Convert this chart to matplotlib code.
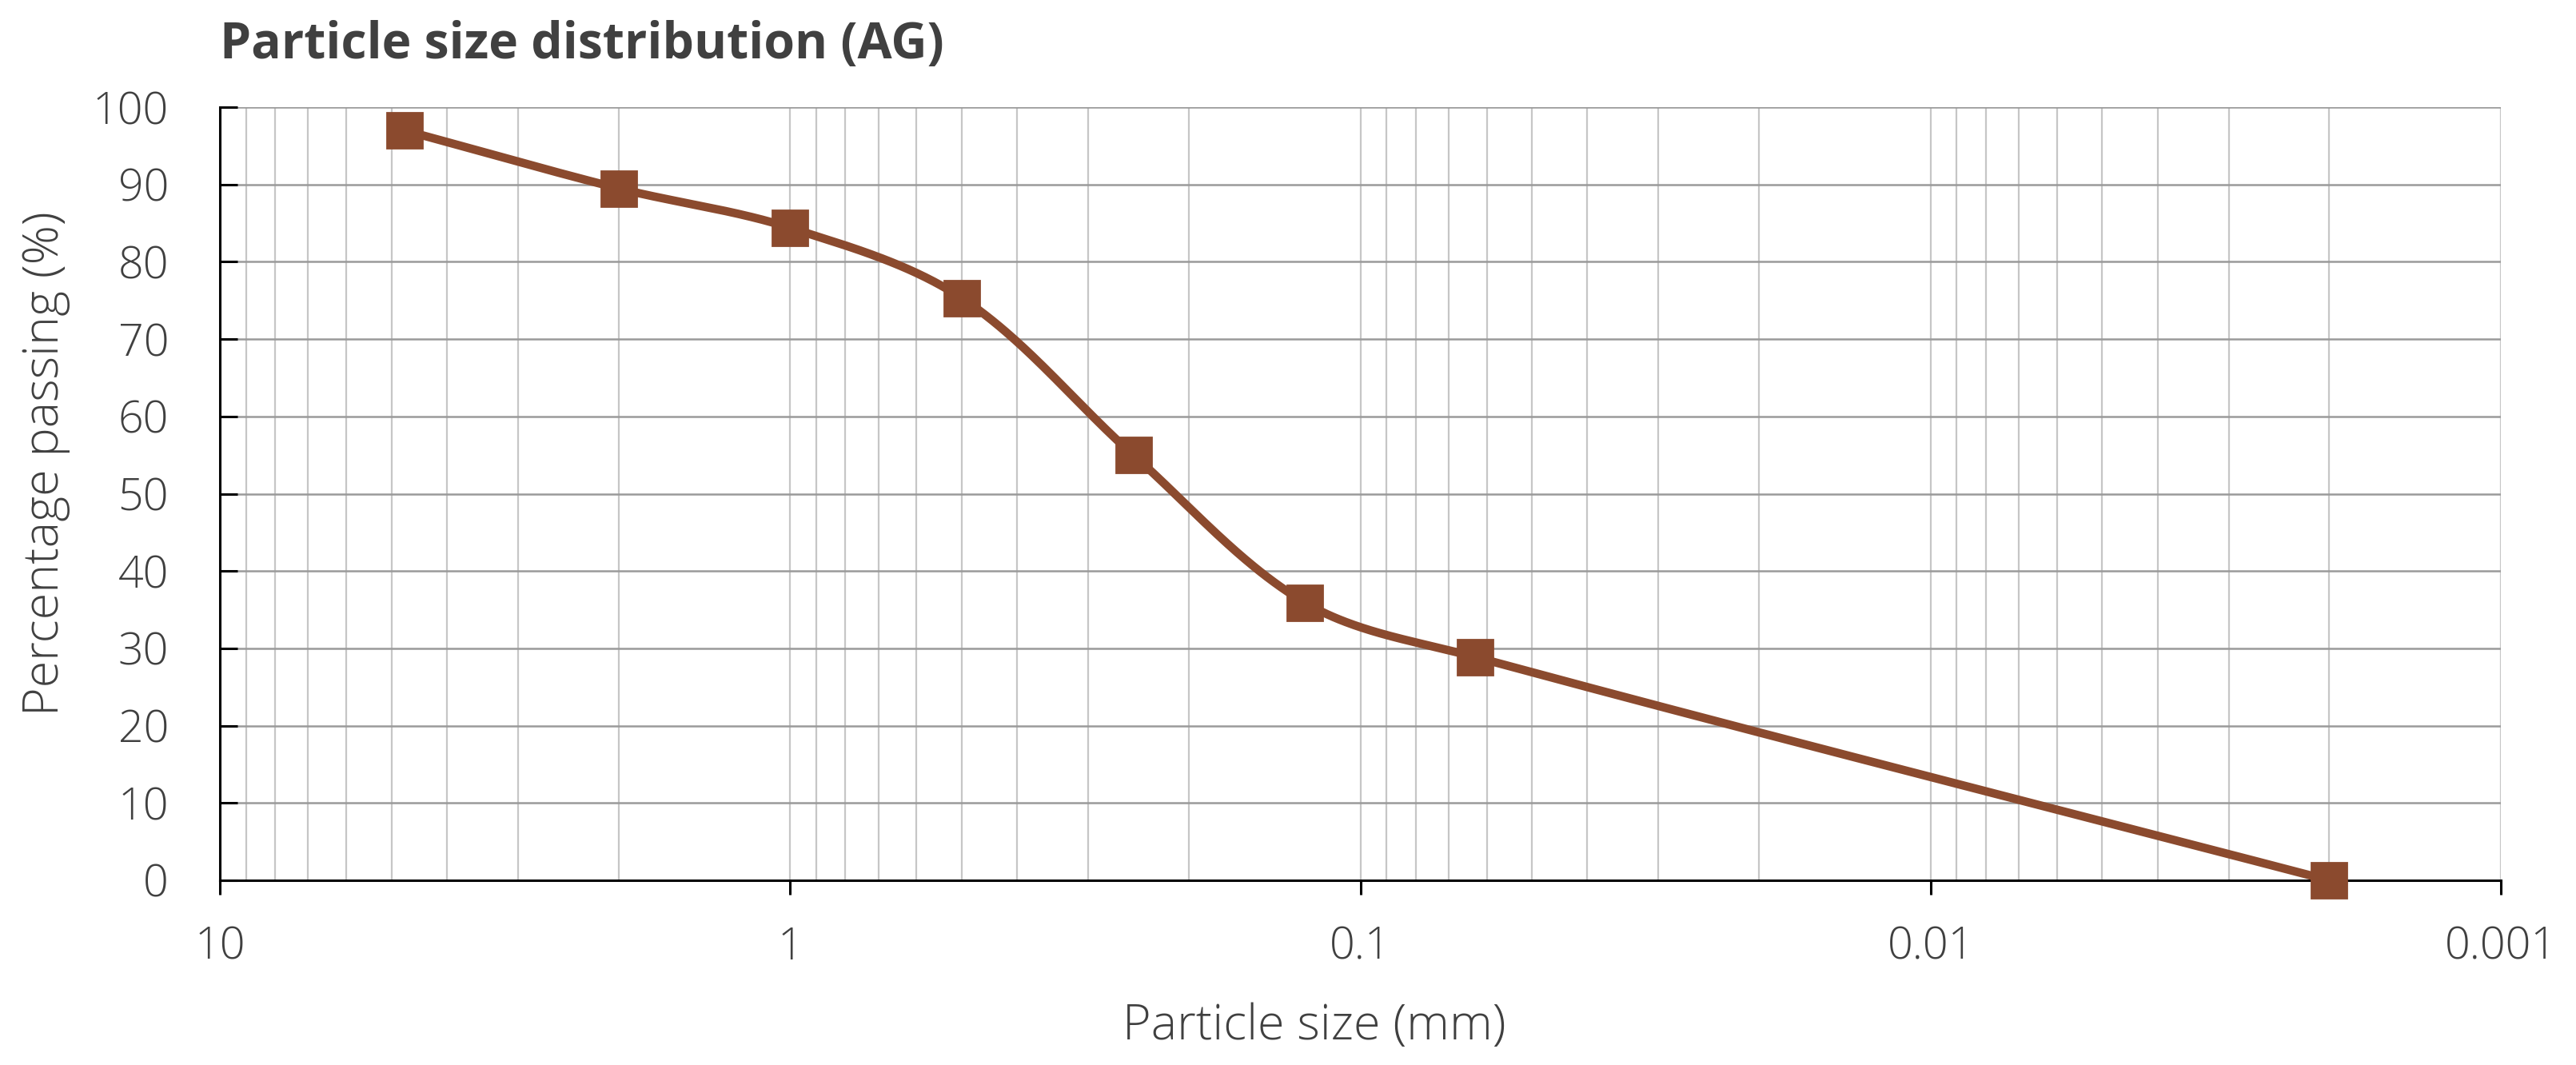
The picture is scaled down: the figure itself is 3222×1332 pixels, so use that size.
import numpy as np
import matplotlib
matplotlib.use("Agg")
import matplotlib.pyplot as plt
from matplotlib.ticker import FixedLocator, NullFormatter

# ---- data ----
particle_size_mm = [4.75, 2.0, 1.0, 0.5, 0.25, 0.125, 0.063, 0.002]
percent_passing = [97.0, 89.5, 84.4, 75.3, 55.0, 35.9, 28.9, 0.0]
x_ticks = [10, 1, 0.1, 0.01, 0.001]
x_tick_labels = ["10", "1", "0.1", "0.01", "0.001"]
y_ticks = [0, 10, 20, 30, 40, 50, 60, 70, 80, 90, 100]
title = "Particle size distribution (AG)"
x_label = "Particle size (mm)"
y_label = "Percentage passing (%)"

BROWN = "#8B4A2E"
TEXT = "#404040"
FONT = ["Open Sans", "DejaVu Sans"]

W, H, DPI = 3222, 1332, 200
fig = plt.figure(figsize=(W / DPI, H / DPI), dpi=DPI)
L, R, T, B = 275, 3128, 134, 1101
ax = fig.add_axes([L / W, 1 - B / H, (R - L) / W, (B - T) / H])
ax.set_xscale("log")
ax.set_xlim(10, 0.001)
ax.set_ylim(0, 100)

# grid
ax.xaxis.set_major_locator(FixedLocator(x_ticks))
minor = [m * d for d in [0.001, 0.01, 0.1, 1] for m in range(2, 10)]
ax.xaxis.set_minor_locator(FixedLocator(minor))
ax.xaxis.set_minor_formatter(NullFormatter())
ax.set_xticklabels(x_tick_labels)
ax.set_yticks(y_ticks)
ax.grid(True, which="major", axis="y", color="#9a9a9a", lw=0.9)
ax.grid(True, which="both", axis="x", color="#c6c6c6", lw=0.8)
ax.set_axisbelow(True)

for s in ["top", "right"]:
    ax.spines[s].set_visible(False)
for s in ["left", "bottom"]:
    ax.spines[s].set_color("black")
    ax.spines[s].set_linewidth(1.1)
    ax.spines[s].set_zorder(2.5)

ax.tick_params(axis="y", direction="in", length=8, width=1.1, color="black",
               pad=23, labelsize=20, labelcolor=TEXT)
ax.tick_params(axis="x", which="major", direction="out", length=6.5, width=1.1,
               color="black", pad=14, labelsize=20, labelcolor=TEXT)
ax.tick_params(axis="x", which="minor", length=0)
for lab in ax.get_xticklabels() + ax.get_yticklabels():
    lab.set_family(FONT)
    lab.set_fontweight("light")

# smoothed line (Bezier smoothing in display space, arm length limited by segment)
pts = ax.transData.transform(np.column_stack([particle_size_mm, percent_passing]))
n = len(pts)


def tangent(i):
    a = pts[i - 1] if i > 0 else pts[i]
    b = pts[i + 1] if i < n - 1 else pts[i]
    d = b - a
    return d / np.hypot(*d)


curve = []
for i in range(n - 1):
    p1, p2 = pts[i], pts[i + 1]
    seg_len = np.hypot(*(p2 - p1))
    c1 = p1 + tangent(i) * seg_len / 3.0
    c2 = p2 - tangent(i + 1) * seg_len / 3.0
    t = np.linspace(0, 1, 80)[:, None]
    seg = ((1 - t) ** 3) * p1 + 3 * ((1 - t) ** 2) * t * c1 + 3 * (1 - t) * t ** 2 * c2 + t ** 3 * p2
    curve.append(seg if i == 0 else seg[1:])
curve = np.vstack(curve)
cd = ax.transData.inverted().transform(curve)
ax.plot(cd[:, 0], cd[:, 1], color=BROWN, lw=3.8, solid_capstyle="round", zorder=3, clip_on=False)
ax.plot(particle_size_mm, percent_passing, ls="none", marker="s", ms=16,
        color=BROWN, mec=BROWN, zorder=4, clip_on=False)

fig.text(L / W, 1 - 73 / H, title, fontsize=22.5, fontweight="bold",
         color=TEXT, family=FONT, ha="left", va="baseline")
fig.text(1644 / W, 1 - 1300 / H, x_label, fontsize=22, fontweight="light",
         color=TEXT, family=FONT, ha="center", va="baseline")
fig.text(57 / W, 1 - 580 / H, y_label, fontsize=22, fontweight="light",
         color=TEXT, family=FONT, ha="center", va="center", rotation=90)

fig.savefig("out.png", dpi=DPI)
